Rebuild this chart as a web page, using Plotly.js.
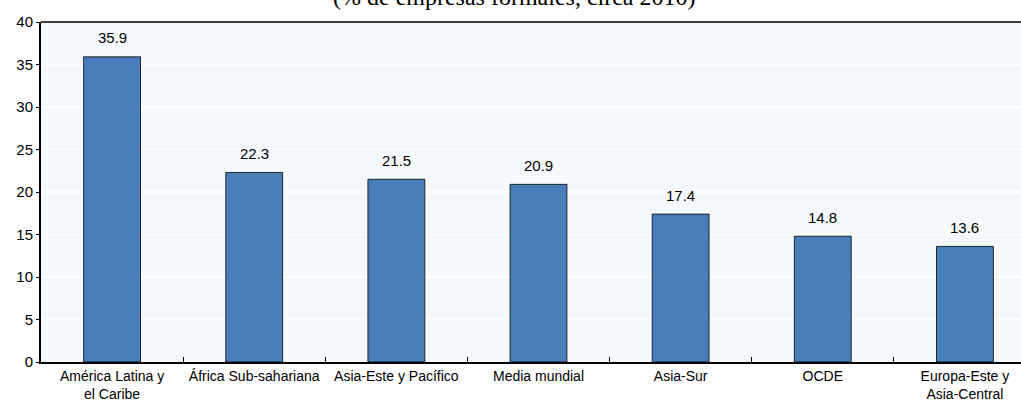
<!DOCTYPE html>
<html>
<head>
<meta charset="utf-8">
<script src="https://cdn.plot.ly/plotly-3.0.1.min.js"></script>
<style>
html,body{margin:0;padding:0;overflow:hidden;background:#fff;}
#chart{width:1036px;height:402px;}
</style>
</head>
<body>
<div id="chart"></div>
<script>
const categories = ["América Latina y<br>el Caribe", "África Sub-sahariana", "Asia-Este y Pacífico", "Media mundial", "Asia-Sur", "OCDE", "Europa-Este y<br>Asia-Central"];
const values = [35.9, 22.3, 21.5, 20.9, 17.4, 14.8, 13.6];
const valueLabels = ["35.9", "22.3", "21.5", "20.9", "17.4", "14.8", "13.6"];
const yTicks = [0, 5, 10, 15, 20, 25, 30, 35, 40];
const titleText = "(% de empresas formales, circa 2010)";

const font = "'Liberation Sans', Arial, sans-serif";

const trace = {
  type: "bar",
  x: categories,
  y: values,
  marker: {color: "#4a7ebb", line: {color: "#000", width: 0.8}},
  width: 0.4,
  hoverinfo: "skip"
};

const valueAnnotations = categories.map((c, i) => ({
  x: c, y: values[i], xref: "x", yref: "y",
  text: valueLabels[i],
  showarrow: false,
  xanchor: "center", yanchor: "middle",
  yshift: 19,
  font: {family: font, size: 15, color: "#000"}
}));

const layout = {
  width: 1036,
  height: 402,
  margin: {l: 41, r: 0, t: 22, b: 40},
  paper_bgcolor: "#fff",
  plot_bgcolor: "#f4fafc",
  showlegend: false,
  xaxis: {
    type: "category",
    tickson: "boundaries",
    ticks: "inside",
    ticklen: 5,
    tickcolor: "#000",
    tickwidth: 1,
    tickangle: 0,
    showline: true,
    linecolor: "#000",
    linewidth: 2,
    showgrid: false,
    tickfont: {family: font, size: 14, color: "#000"},
    fixedrange: true
  },
  yaxis: {
    range: [0, 40],
    tickvals: yTicks,
    ticktext: yTicks.map(String),
    ticks: "outside",
    ticklen: 3,
    tickcolor: "#000",
    showline: true,
    linecolor: "#000",
    linewidth: 2,
    showgrid: true,
    gridcolor: "#ffffff",
    gridwidth: 1.5,
    zeroline: false,
    tickfont: {family: font, size: 15, color: "#000"},
    fixedrange: true
  },
  shapes: [{
    type: "line", xref: "paper", yref: "paper",
    x0: 0, x1: 1, y0: 1, y1: 1,
    line: {color: "#000", width: 1.5}
  }],
  annotations: valueAnnotations.concat([{
    text: titleText,
    xref: "paper", yref: "paper",
    x: 0.476, y: 1, yshift: 25,
    xanchor: "center", yanchor: "middle",
    showarrow: false,
    font: {family: "'Liberation Serif', 'DejaVu Serif', serif", size: 24, color: "#000"}
  }])
};

Plotly.newPlot("chart", [trace], layout, {displayModeBar: false, staticPlot: true});
</script>
</body>
</html>
